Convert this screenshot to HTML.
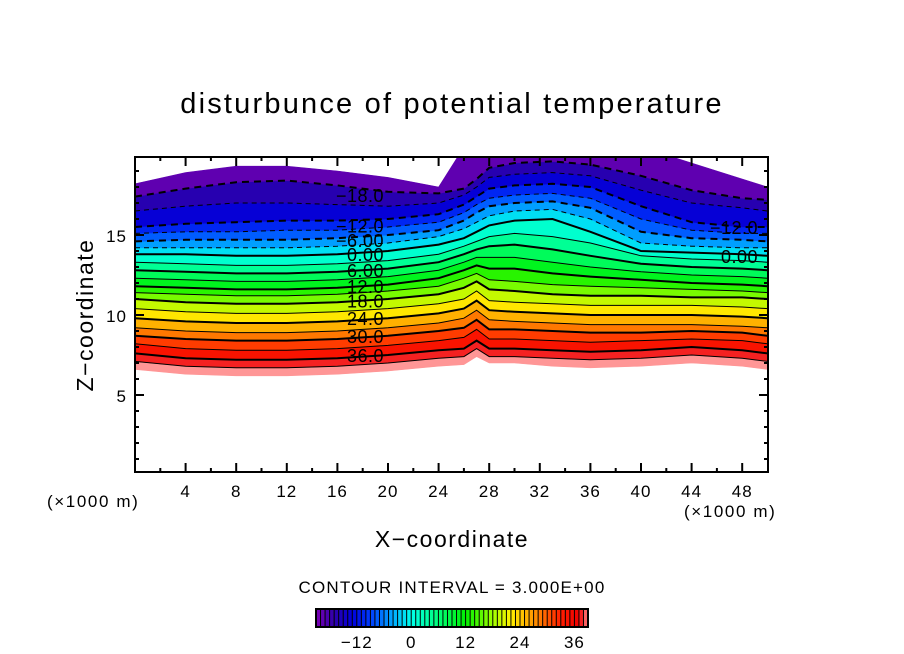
<!DOCTYPE html>
<html><head><meta charset="utf-8">
<style>
html,body{margin:0;padding:0;background:#fff;}
svg{display:block;font-family:"Liberation Sans",sans-serif;}
</style></head>
<body>
<svg id="chart" width="904" height="654" viewBox="0 0 904 654">
<defs><clipPath id="plotclip"><rect x="135" y="157" width="633" height="315"/></clipPath></defs>
<text x="452" y="113" font-size="29" letter-spacing="2.2" text-anchor="middle">disturbunce of potential temperature</text>
<g id="fills" clip-path="url(#plotclip)"></g>
<g id="lines" clip-path="url(#plotclip)"></g>
<g id="labels"></g>
<rect x="135" y="157" width="633" height="315" fill="none" stroke="#000" stroke-width="2"/>
<g id="axes"></g>
<text x="47" y="507" font-size="17" letter-spacing="1.6">(×1000 m)</text>
<text x="684" y="517" font-size="17" letter-spacing="1.6">(×1000 m)</text>
<text x="452" y="547" font-size="23" letter-spacing="1.5" text-anchor="middle">X−coordinate</text>
<text transform="translate(93,315) rotate(-90)" font-size="23" letter-spacing="1.5" text-anchor="middle">Z−coordinate</text>
<text x="452" y="593" font-size="17" letter-spacing="1.2" text-anchor="middle">CONTOUR INTERVAL = 3.000E+00</text>
<g id="cbar"></g>
</svg>
<script>
const xs = [0,4,8,12,16,20,24,26,27,28,30,33,36,40,44,48,50];
const levels = [42,39,36,33,30,27,24,21,18,15,12,9,6,3,0,-3,-6,-9,-12,-15,-18,-21];
const heights = [
[6.6,6.3,6.2,6.2,6.3,6.5,6.8,6.9,7.4,7.0,7.0,6.8,6.7,6.8,7.0,6.8,6.6],
[7.1,6.8,6.7,6.7,6.8,7.0,7.3,7.4,7.9,7.4,7.4,7.3,7.2,7.3,7.5,7.3,7.1],
[7.6,7.3,7.2,7.2,7.3,7.5,7.8,7.9,8.4,7.9,7.9,7.8,7.7,7.8,8.0,7.8,7.6],
[8.2,7.9,7.8,7.8,7.9,8.1,8.4,8.6,9.1,8.5,8.5,8.4,8.3,8.4,8.5,8.4,8.2],
[8.7,8.5,8.4,8.4,8.5,8.7,9.0,9.2,9.7,9.1,9.1,9.0,8.9,8.9,9.0,8.9,8.7],
[9.2,9.0,8.9,8.9,9.0,9.2,9.5,9.8,10.3,9.7,9.6,9.5,9.4,9.4,9.4,9.3,9.2],
[9.8,9.6,9.5,9.5,9.6,9.8,10.1,10.4,10.9,10.3,10.2,10.1,10.0,10.0,10.0,9.9,9.8],
[10.4,10.2,10.1,10.1,10.2,10.4,10.7,11.0,11.5,10.9,10.8,10.7,10.6,10.6,10.6,10.5,10.4],
[11.0,10.8,10.7,10.7,10.8,11.0,11.3,11.7,12.1,11.6,11.5,11.3,11.2,11.2,11.1,11.1,11.0],
[11.4,11.3,11.2,11.2,11.3,11.5,11.8,12.3,12.6,12.2,12.1,11.9,11.8,11.7,11.6,11.5,11.4],
[11.8,11.7,11.6,11.6,11.7,11.9,12.3,12.8,13.1,12.9,12.9,12.6,12.4,12.2,12.0,11.9,11.8],
[12.3,12.2,12.1,12.1,12.2,12.4,12.8,13.3,13.6,13.6,13.6,13.3,13.0,12.7,12.5,12.4,12.3],
[12.8,12.7,12.6,12.6,12.7,12.9,13.3,13.8,14.1,14.3,14.4,14.1,13.7,13.2,13.0,12.9,12.8],
[13.3,13.2,13.1,13.1,13.2,13.4,13.8,14.3,14.6,14.9,15.1,14.9,14.5,13.7,13.5,13.4,13.3],
[13.8,13.8,13.7,13.7,13.8,14.0,14.4,14.8,15.2,15.6,15.9,16.0,15.2,14.0,13.9,13.8,13.7],
[14.2,14.2,14.2,14.2,14.3,14.5,14.9,15.4,15.8,16.2,16.5,16.6,16.0,14.5,14.3,14.2,14.2],
[14.6,14.7,14.7,14.7,14.8,15.0,15.3,15.9,16.4,16.8,17.0,17.1,16.7,15.2,14.8,14.7,14.6],
[15.1,15.2,15.2,15.3,15.3,15.5,15.8,16.4,16.9,17.3,17.5,17.6,17.3,16.0,15.3,15.1,15.1],
[15.5,15.7,15.8,15.9,15.9,16.0,16.3,16.9,17.4,17.9,18.1,18.2,18.0,16.8,15.8,15.5,15.5],
[16.5,16.8,17.0,17.0,16.9,16.8,17.0,17.5,18.0,18.6,18.8,18.9,18.7,17.8,17.0,16.7,16.5],
[17.4,17.9,18.3,18.4,18.1,17.7,17.6,17.9,18.5,19.2,19.5,19.6,19.4,18.7,17.8,17.3,17.2],
[18.2,18.9,19.3,19.3,19.0,18.6,18.0,20.5,20.5,20.5,20.5,20.5,20.5,20.5,19.5,18.5,18.0]
];
const xTicks = [4,8,12,16,20,24,28,32,36,40,44,48];
const zTicks = [5,10,15];
const cbarTicks = [-12,0,12,24,36];
const labelsLeft = [["−18.0",-18,17.5],["−12.0",-12,15.6],["−6.00",-6,14.7],["0.00",0,13.8],["6.00",6,12.8],["12.0",12,11.8],["18.0",18,10.9],["24.0",24,9.8],["30.0",30,8.7],["36.0",36,7.5]];
const labelsRight = [["−12.0",-12,15.5],["0.00",0,13.7]];

const NS="http://www.w3.org/2000/svg";
const X0=135, XS=12.65, Z0=475, ZS=16;
const sx=v=>X0+v*XS, sz=v=>Z0-v*ZS;
function mk(t,a,p){const e=document.createElementNS(NS,t);for(const k in a)e.setAttribute(k,a[k]);p.appendChild(e);return e;}
const stops=[[-21,[125,0,180]],[-17,[45,0,170]],[-13,[0,0,220]],[-9,[0,60,255]],[-4,[0,170,255]],[0,[0,255,235]],[6,[0,255,120]],[12,[0,240,0]],[18,[160,255,0]],[22,[255,240,0]],[27,[255,150,0]],[33,[255,30,0]],[37,[240,0,0]],[39,[255,130,130]],[42,[255,170,170]]];
function col(v){for(let i=0;i<stops.length-1;i++){const a=stops[i],b=stops[i+1];if(v<=b[0]){const t=Math.max(0,(v-a[0])/(b[0]-a[0]));return "rgb("+a[1].map((c,j)=>Math.round(c+(b[1][j]-c)*t)).join(",")+")";}}const l=stops[stops.length-1][1];return "rgb("+l.join(",")+")";}
const toPts=h=>xs.map((x,i)=>sx(x).toFixed(1)+","+sz(h[i]).toFixed(1));
const fills=document.getElementById('fills');
for(let i=0;i<levels.length-1;i++){
  const lo=heights[i], hi=heights[i+1];
  const pts=toPts(lo).concat(toPts(hi).reverse());
  const c=col((levels[i]+levels[i+1])/2);
  const p=mk('polygon',{points:pts.join(' '),fill:c,stroke:c,'stroke-width':0.6},fills);
  
  
}
const linesG=document.getElementById('lines');
for(let i=1;i<levels.length-1;i++){
  const v=levels[i];
  const a={points:toPts(heights[i]).join(' '),fill:'none',stroke:'#000','stroke-width':(v%6===0)?2:1};
  if(v<0)a['stroke-dasharray']=(v%6===0)?'7,5':'5,4';
  const p=mk('polyline',a,linesG);
  
  
}
const lab=document.getElementById('labels');
function addLab(arr,xpos,anchor){arr.forEach(d=>{const t=mk('text',{x:xpos,y:sz(d[2])+7,'font-size':18,'letter-spacing':0.5,'text-anchor':anchor},lab);t.textContent=d[0];
  
  });}
addLab(labelsLeft,384,'end');addLab(labelsRight,758,'end');
const ax=document.getElementById('axes');
for(let v=1;v<50;v++){const big=xTicks.includes(v);if(v%2&&!big)continue;const L=big?9:4;
  mk('line',{x1:sx(v),x2:sx(v),y1:472,y2:472-L,stroke:'#000','stroke-width':2},ax);
  mk('line',{x1:sx(v),x2:sx(v),y1:157,y2:157+L,stroke:'#000','stroke-width':2},ax);}
xTicks.forEach(v=>{const t=mk('text',{x:sx(v),y:497,'font-size':17,'letter-spacing':1,'text-anchor':'middle'},ax);t.textContent=v;
  
  });
for(let v=1;v<20;v++){const big=v%5===0;const L=big?9:4;
  mk('line',{x1:135,x2:135+L,y1:sz(v),y2:sz(v),stroke:'#000','stroke-width':2},ax);
  mk('line',{x1:768,x2:768-L,y1:sz(v),y2:sz(v),stroke:'#000','stroke-width':2},ax);}
zTicks.forEach(v=>{const t=mk('text',{x:127,y:sz(v)+7,'font-size':17,'letter-spacing':1,'text-anchor':'end'},ax);t.textContent=v;
  
  });
const cb=document.getElementById('cbar');
const C0=316,CW=272,cs=v=>C0+(v+21)*CW/60;
for(let v=-21;v<39;v++){const r=mk('rect',{x:cs(v),y:609,width:CW/60,height:18,fill:col(v+0.5)},cb);
  
  
  mk('line',{x1:cs(v),x2:cs(v),y1:609,y2:627,stroke:'#000','stroke-width':1},cb);}
mk('rect',{x:C0,y:609,width:CW,height:18,fill:'none',stroke:'#000','stroke-width':2},cb);
cbarTicks.forEach(v=>{const t=mk('text',{x:cs(v),y:648,'font-size':17,'letter-spacing':1,'text-anchor':'middle'},cb);t.textContent=(v<0?'−'+(-v):v);
  
  });
</script>
</body></html>
